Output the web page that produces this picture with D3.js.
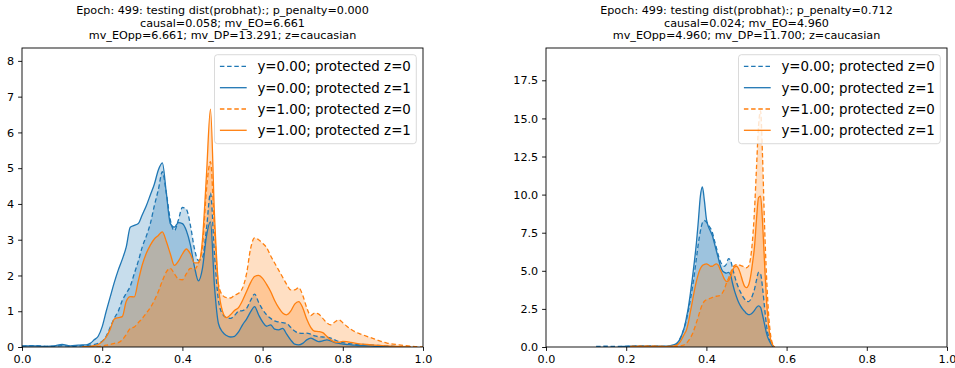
<!DOCTYPE html>
<html>
<head>
<meta charset="utf-8">
<script src="https://cdn.jsdelivr.net/npm/d3@7"></script>
<style>
  body { margin: 0; background: #fff; }
  svg { display: block; }
  text { font-family: "DejaVu Sans", sans-serif; fill: #000; }
</style>
</head>
<body>
<svg id="chart" width="955" height="368"></svg>
<script>
// ---- data ----
const xTickValues = [0, 0.2, 0.4, 0.6, 0.8, 1.0];
const leftYTicks = [0, 1, 2, 3, 4, 5, 6, 7, 8];
const rightYTicks = [0, 2.5, 5, 7.5, 10, 12.5, 15, 17.5];
const legendLabels = ["y=0.00; protected z=0", "y=0.00; protected z=1", "y=1.00; protected z=0", "y=1.00; protected z=1"];

const leftTitle = ["Epoch: 499: testing dist(probhat):; p_penalty=0.000", "causal=0.058; mv_EO=6.661", "mv_EOpp=6.661; mv_DP=13.291; z=caucasian"];
const rightTitle = ["Epoch: 499: testing dist(probhat):; p_penalty=0.712", "causal=0.024; mv_EO=4.960", "mv_EOpp=4.960; mv_DP=11.700; z=caucasian"];

// left panel, density sampled at these x
const leftGrid = [0, 0.03, 0.06, 0.08, 0.10, 0.12, 0.14,
  0.15, 0.16, 0.17, 0.18, 0.19, 0.20, 0.21, 0.22, 0.23, 0.24,
  0.25, 0.26, 0.27, 0.28, 0.29, 0.30, 0.31, 0.32, 0.33, 0.34,
  0.35, 0.36, 0.37, 0.38, 0.39, 0.40, 0.41, 0.42, 0.43, 0.44,
  0.45, 0.46, 0.47, 0.48, 0.49, 0.50, 0.51, 0.52, 0.53, 0.54,
  0.55, 0.56, 0.57, 0.58, 0.59, 0.60, 0.61, 0.62, 0.63, 0.64,
  0.65, 0.66, 0.67, 0.68, 0.69, 0.70, 0.71, 0.72, 0.73, 0.74,
  0.75, 0.76, 0.77, 0.78, 0.79, 0.80, 0.81, 0.82, 0.83, 0.84,
  0.85, 0.88, 0.91, 0.94, 0.97, 1.0];
const leftY0Z0 = [0.02, 0.04, 0.02, 0.02, 0.04, 0.02, 0.03,
  0.04, 0.04, 0.05, 0.07, 0.1, 0.16, 0.3, 0.55, 0.8, 1.0,
  1.3, 1.5, 1.7, 2.05, 2.4, 2.8, 3.1, 3.45, 3.95, 4.4,
  4.9, 4.3, 3.55, 3.25, 3.55, 3.9, 3.85, 3.4, 2.75, 2.42,
  2.5, 3.3, 4.3, 2.6, 1.3, 0.92, 0.82, 0.8, 0.88, 1.0,
  1.02, 1.08, 1.3, 1.48, 1.25, 1.05, 0.9, 0.8, 0.73, 0.7,
  0.68, 0.66, 0.55, 0.45, 0.39, 0.38, 0.39, 0.36, 0.31, 0.29,
  0.28, 0.27, 0.25, 0.2, 0.15, 0.12, 0.1, 0.09, 0.08, 0.07,
  0.07, 0.05, 0.03, 0.01, null, null];
const leftY0Z1 = [0.03, 0.03, 0.02, 0.03, 0.07, 0.03, 0.05,
  0.06, 0.06, 0.1, 0.2, 0.3, 0.57, 1.0, 1.4, 1.8, 2.15,
  2.45, 2.8, 3.35, 3.4, 3.45, 3.7, 3.95, 4.25, 4.55, 4.95,
  5.15, 4.3, 3.45, 3.35, 3.48, 3.45, 3.25, 2.85, 2.25, 1.85,
  2.2, 3.1, 3.5, 1.7, 0.65, 0.42, 0.32, 0.28, 0.3, 0.42,
  0.62, 0.78, 0.98, 1.13, 0.9, 0.7, 0.58, 0.62, 0.5, 0.48,
  0.52, 0.36, 0.2, 0.08, 0.06, 0.1, 0.2, 0.25, 0.2, 0.15,
  0.17, 0.2, 0.17, 0.12, 0.1, 0.08, 0.07, 0.06, 0.05, 0.04,
  0.04, 0.02, 0.01, 0.003, null, null];
const leftY1Z0 = [null, null, null, null, null, null, null,
  0.005, 0.01, 0.01, 0.02, 0.02, 0.03, 0.05, 0.07, 0.1, 0.12,
  0.2, 0.35, 0.52, 0.56, 0.68, 0.8, 0.95, 1.1, 1.3, 1.55,
  1.85, 2.1, 2.2, 2.05, 1.9, 1.88, 2.05, 2.2, 2.18, 2.35,
  2.8, 4.4, 5.18, 3.3, 1.75, 1.45, 1.38, 1.37, 1.45, 1.5,
  1.65, 2.05, 2.75, 3.05, 3.0, 2.9, 2.78, 2.55, 2.35, 2.15,
  1.95, 1.75, 1.6, 1.6, 1.66, 1.45, 1.1, 0.88, 0.95, 0.92,
  0.8, 0.68, 0.62, 0.7, 0.76, 0.68, 0.58, 0.5, 0.43, 0.38,
  0.34, 0.22, 0.11, 0.06, 0.02, 0.0];
const leftY1Z1 = [null, null, null, null, null, null, null,
  0.005, 0.01, 0.02, 0.04, 0.07, 0.15, 0.28, 0.5, 0.78, 0.82,
  0.85, 1.28, 1.41, 1.4, 1.85, 2.3, 2.62, 2.85, 3.02, 3.12,
  3.22, 2.95, 2.6, 2.28, 2.4, 2.6, 2.74, 2.6, 2.35, 2.35,
  3.0, 4.8, 6.65, 3.7, 1.7, 1.0, 0.82, 0.9, 1.02, 1.1,
  1.3, 1.55, 1.8, 1.97, 2.0, 1.92, 1.75, 1.55, 1.3, 1.1,
  0.95, 0.9, 1.0, 1.2, 1.27, 1.1, 0.78, 0.55, 0.44, 0.43,
  0.4, 0.3, 0.2, 0.14, 0.13, 0.16, 0.15, 0.13, 0.11, 0.09,
  0.08, 0.05, 0.03, 0.01, 0.003, null];

// right panel
const rightGrid = [0.125, 0.15, 0.18, 0.21, 0.24, 0.27, 0.30, 0.32,
  0.330, 0.335, 0.340, 0.345, 0.350, 0.355, 0.360, 0.365, 0.370, 0.375,
  0.380, 0.385, 0.390, 0.395, 0.400, 0.405, 0.410, 0.415, 0.420, 0.425,
  0.430, 0.435, 0.440, 0.445, 0.450, 0.455, 0.460, 0.465, 0.470, 0.475,
  0.480, 0.485, 0.490, 0.495, 0.500, 0.505, 0.510, 0.515, 0.520, 0.525,
  0.530, 0.535, 0.540, 0.545, 0.550, 0.555, 0.560, 0.565, 0.570];
const rightY0Z0 = [0.04, 0.05, 0.04, 0.05, 0.08, 0.06, 0.04, 0.08,
  0.35, 0.6, 0.9, 1.3, 1.75, 2.4, 3.1, 3.9, 4.8, 5.8,
  6.8, 7.6, 8.15, 8.3, 8.2, 8.0, 7.8, 7.5, 7.0, 6.5,
  6.0, 5.6, 5.4, 5.3, 5.45, 5.8, 5.7, 5.2, 4.7, 4.25,
  3.9, 3.6, 3.35, 3.15, 3.0, 2.98, 3.1, 3.4, 3.8, 4.4,
  4.9, 4.8, 3.9, 2.6, 1.4, 0.7, 0.35, 0.1, 0];
const rightY0Z1 = [null, null, 0.03, 0.05, 0.06, 0.05, 0.05, 0.15,
  0.35, 0.55, 0.9, 1.3, 1.9, 2.6, 3.5, 4.5, 5.6, 6.8,
  8.3, 9.9, 10.5, 9.6, 8.4, 7.9, 7.6, 7.3, 6.8, 6.3,
  5.8, 5.3, 5.0, 4.9, 4.85, 4.9, 4.75, 4.2, 3.7, 3.3,
  2.95, 2.7, 2.5, 2.35, 2.2, 2.12, 2.15, 2.25, 2.4, 2.6,
  2.7, 2.6, 2.1, 1.5, 0.9, 0.5, 0.25, 0.05, 0];
const rightY1Z0 = [null, null, null, 0.04, 0.06, 0.05, 0.04, 0.04,
  0.05, 0.07, 0.1, 0.15, 0.25, 0.4, 0.6, 0.85, 1.2, 1.6,
  2.0, 2.45, 2.8, 3.0, 3.1, 3.15, 3.2, 3.25, 3.3, 3.33,
  3.35, 3.4, 3.55, 3.8, 4.2, 4.5, 4.85, 5.2, 5.35, 5.4,
  5.4, 5.35, 5.3, 5.25, 5.2, 5.3, 5.8, 7.0, 9.0, 11.8,
  14.5, 15.5, 12.5, 8.0, 4.6, 2.2, 0.8, 0.2, 0];
const rightY1Z1 = [null, null, null, 0.03, 0.04, 0.04, 0.03, 0.08,
  0.2, 0.35, 0.6, 0.85, 1.1, 1.6, 2.3, 3.0, 3.7, 4.3,
  4.8, 5.15, 5.35, 5.42, 5.45, 5.4, 5.3, 5.3, 5.4, 5.45,
  5.35, 5.05, 4.75, 4.45, 4.3, 4.35, 4.6, 5.0, 5.25, 5.3,
  5.15, 4.8, 4.35, 4.0, 3.9, 4.05, 4.6, 5.5, 6.6, 8.4,
  9.8, 9.9, 8.2, 5.5, 3.0, 1.4, 0.5, 0.15, 0];

const colors = ["#1f77b4", "#1f77b4", "#ff7f0e", "#ff7f0e"];
const dashes = ["4.5,2.7", null, "4.5,2.7", null];

const svg = d3.select("#chart");

function drawPanel(p) {
  let x = d3.scaleLinear().domain([0, 1]).range([p.x0, p.x1]);
  let y = d3.scaleLinear().domain([0, p.yMax]).range([p.y1, p.y0]);

  svg.append("clipPath").attr("id", "clip-" + p.name)
    .append("rect")
    .attr("x", p.x0).attr("y", p.y0)
    .attr("width", p.x1 - p.x0).attr("height", p.y1 - p.y0);

  let g = svg.append("g").attr("clip-path", "url(#clip-" + p.name + ")");

  let series = p.series.map(function (vals) {
    return p.grid.map(function (gx, i) { return [gx, vals[i]]; });
  });

  let area = d3.area()
    .defined(function (d) { return d[1] !== null; })
    .x(function (d) { return x(d[0]); })
    .y0(y(0))
    .y1(function (d) { return y(d[1]); })
    .curve(d3.curveMonotoneX);

  let line = d3.line()
    .defined(function (d) { return d[1] !== null; })
    .x(function (d) { return x(d[0]); })
    .y(function (d) { return y(d[1]); })
    .curve(d3.curveMonotoneX);

  // fills sit under all the lines, like matplotlib zorder
  g.selectAll(".fill").data(series).enter().append("path")
    .attr("class", "fill")
    .attr("d", area)
    .attr("fill", function (d, i) { return colors[i]; })
    .attr("fill-opacity", 0.25)
    .attr("stroke", "none");

  g.selectAll(".kde").data(series).enter().append("path")
    .attr("class", "kde")
    .attr("d", line)
    .attr("fill", "none")
    .attr("stroke", function (d, i) { return colors[i]; })
    .attr("stroke-width", 1.3)
    .attr("stroke-dasharray", function (d, i) { return dashes[i]; });

  // axes
  let xAxis = svg.append("g")
    .attr("transform", "translate(0," + p.y1 + ")")
    .call(d3.axisBottom(x).tickValues(xTickValues).tickFormat(d3.format(".1f"))
      .tickSize(3.9).tickPadding(3.9).tickSizeOuter(0));
  let yAxis = svg.append("g")
    .attr("transform", "translate(" + p.x0 + ",0)")
    .call(d3.axisLeft(y).tickValues(p.yTicks).tickFormat(p.yFormat)
      .tickSize(3.9).tickPadding(3.9).tickSizeOuter(0));
  [xAxis, yAxis].forEach(function (a) {
    a.select(".domain").remove();
    a.attr("font-size", null).attr("font-family", null);
    a.selectAll("text").attr("font-size", "11.2px").attr("fill", "#000");
    a.selectAll("line").attr("stroke", "#000").attr("stroke-width", 0.9);
  });

  svg.append("rect")
    .attr("x", p.x0).attr("y", p.y0)
    .attr("width", p.x1 - p.x0).attr("height", p.y1 - p.y0)
    .attr("fill", "none").attr("stroke", "#000").attr("stroke-width", 0.9);

  // title
  let cx = (p.x0 + p.x1) / 2;
  svg.append("g").selectAll("text").data(p.title).enter().append("text")
    .attr("x", cx)
    .attr("y", function (d, i) { return p.titleBase + i * 12.6; })
    .attr("text-anchor", "middle")
    .attr("font-size", "11.2px")
    .text(function (d) { return d; });

  // legend
  let lg = svg.append("g");
  let texts = lg.selectAll("text").data(legendLabels).enter().append("text")
    .attr("font-size", "13.4px")
    .text(function (d) { return d; });
  let maxLen = d3.max(texts.nodes(), function (n) { return n.getComputedTextLength(); });
  let boxW = 5.4 + 26.8 + 10.7 + maxLen + 5.4;
  let boxX = p.x1 - 6.7 - boxW;
  let boxY = p.y0 + 6.7;
  lg.insert("rect", "text")
    .attr("x", boxX).attr("y", boxY)
    .attr("width", boxW).attr("height", 89)
    .attr("rx", 3).attr("ry", 3)
    .attr("fill", "#fff").attr("fill-opacity", 0.8)
    .attr("stroke", "#ccc").attr("stroke-opacity", 0.8).attr("stroke-width", 0.9);
  texts
    .attr("x", boxX + 5.4 + 26.8 + 10.7)
    .attr("y", function (d, i) { return boxY + 11.7 + i * 21.3 + 4.8; });
  lg.selectAll(".handle").data(legendLabels).enter().append("line")
    .attr("class", "handle")
    .attr("x1", boxX + 5.4).attr("x2", boxX + 5.4 + 26.8)
    .attr("y1", function (d, i) { return boxY + 11.7 + i * 21.3; })
    .attr("y2", function (d, i) { return boxY + 11.7 + i * 21.3; })
    .attr("stroke", function (d, i) { return colors[i]; })
    .attr("stroke-width", 1.3)
    .attr("stroke-dasharray", function (d, i) { return dashes[i]; });
}

drawPanel({
  name: "left", x0: 22, x1: 423, y0: 48, y1: 347, yMax: 8.36,
  yTicks: leftYTicks, yFormat: d3.format("d"),
  grid: leftGrid, series: [leftY0Z0, leftY0Z1, leftY1Z0, leftY1Z1],
  title: leftTitle, titleBase: 14
});
drawPanel({
  name: "right", x0: 546, x1: 947, y0: 48, y1: 347, yMax: 19.62,
  yTicks: rightYTicks, yFormat: d3.format(".1f"),
  grid: rightGrid, series: [rightY0Z0, rightY0Z1, rightY1Z0, rightY1Z1],
  title: rightTitle, titleBase: 14
});
</script>
</body>
</html>
